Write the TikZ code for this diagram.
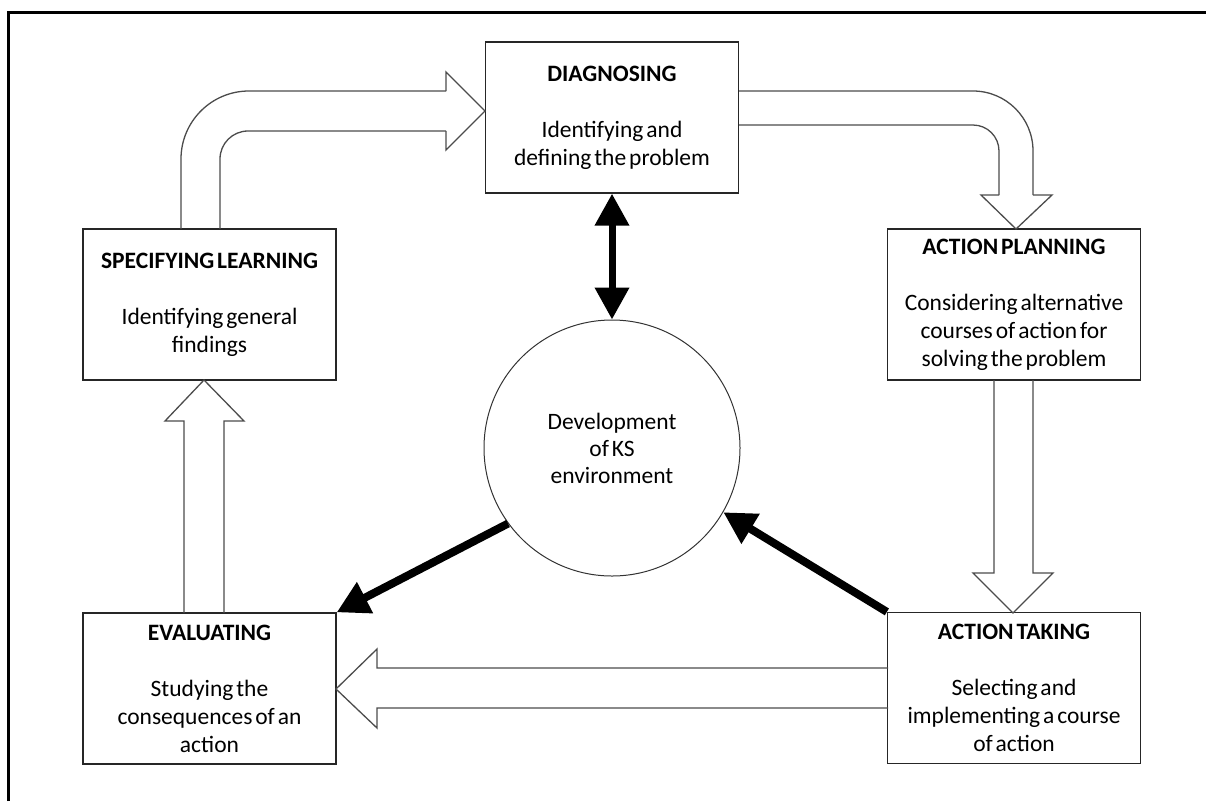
\documentclass[tikz,border=0pt]{standalone}
\usepackage{fontspec}
\setmainfont[WordSpace=0.55]{Carlito}
\usetikzlibrary{arrows.meta}

\begin{document}
\begin{tikzpicture} [
                x=1pt,
                y=-1pt,
                stage/.style = {draw=black!85, line width=1.3pt, text width=245pt, inner sep=4pt,
                                minimum height=151pt, align=flush center, font=\fontsize{23.5}{28}\selectfont},
                core/.style = {circle, draw=black!80, line width=1pt, minimum size=256pt,
                               align=center, font=\fontsize{23.5}{27}\selectfont},
                hollow/.style = {draw=black!70, line width=1.3pt, line join=miter},
                bold arrow/.style = {line width=8pt, -{Triangle[length=32pt, width=33pt]}},
                bold both/.style = {line width=7pt, {Triangle[length=32pt, width=33pt]}-{Triangle[length=32pt, width=33pt]}}
            ]
            \useasboundingbox (0,0) rectangle (1206,801);
            % the frame
            \draw[line width=3pt] (8,801) |- (1206,12);
            % First we draw the stages
            \foreach \pos/\name/\title/\body in {
                {(612,117.5)/diag/DIAGNOSING/{Identifying and\\defining the problem}},
                {(1014,304.5)/plan/ACTION PLANNING/{Considering alternative\\courses of action for\\solving the problem}},
                {(1014,688)/act/ACTION TAKING/{Selecting and\\implementing a course\\of action}},
                {(209.5,688.5)/eval/EVALUATING/{Studying the\\consequences of an\\action}},
                {(209.5,304.5)/learn/SPECIFYING LEARNING/{Identifying general\\findings}}}
                \node[stage] (\name) at \pos {\textbf{\title}\\[28pt]\body};
            \node[core] (ks) at (612,448) {Development\\of KS\\environment};
            % black arrows to and from the centre
            \draw[bold both] (diag.south) -- (ks.north);
            \draw[bold arrow] (ks.216) -- (eval.north east);
            \draw[bold arrow] (act.north west) -- (ks.330);
            % hollow arrows round the cycle
            \draw[hollow, rounded corners=68pt] (181,229) |- (446,91);
            \draw[hollow] (446,91) -- (446,72) -- (485,111) -- (446,150) -- (446,131);
            \draw[hollow, rounded corners=28pt] (446,131) -| (220,229);
            \draw[hollow, rounded corners=60pt] (739,91) -| (1033,195);
            \draw[hollow] (1033,195) -- (1052,195) -- (1016,229) -- (981,195) -- (999,195);
            \draw[hollow, rounded corners=26pt] (999,195) |- (739,125);
            \draw[hollow] (994,380) -- (994,573) -- (973,573) -- (1013,613) -- (1053,573) -- (1033,573) -- (1033,380);
            \draw[hollow] (888,668) -- (377,668) -- (377,649) -- (336,689) -- (377,728) -- (377,708) -- (888,708);
            \draw[hollow] (184,613) -- (184,421) -- (165,421) -- (204,380) -- (244,421) -- (224,421) -- (224,613);
        \end{tikzpicture}
\end{document}
